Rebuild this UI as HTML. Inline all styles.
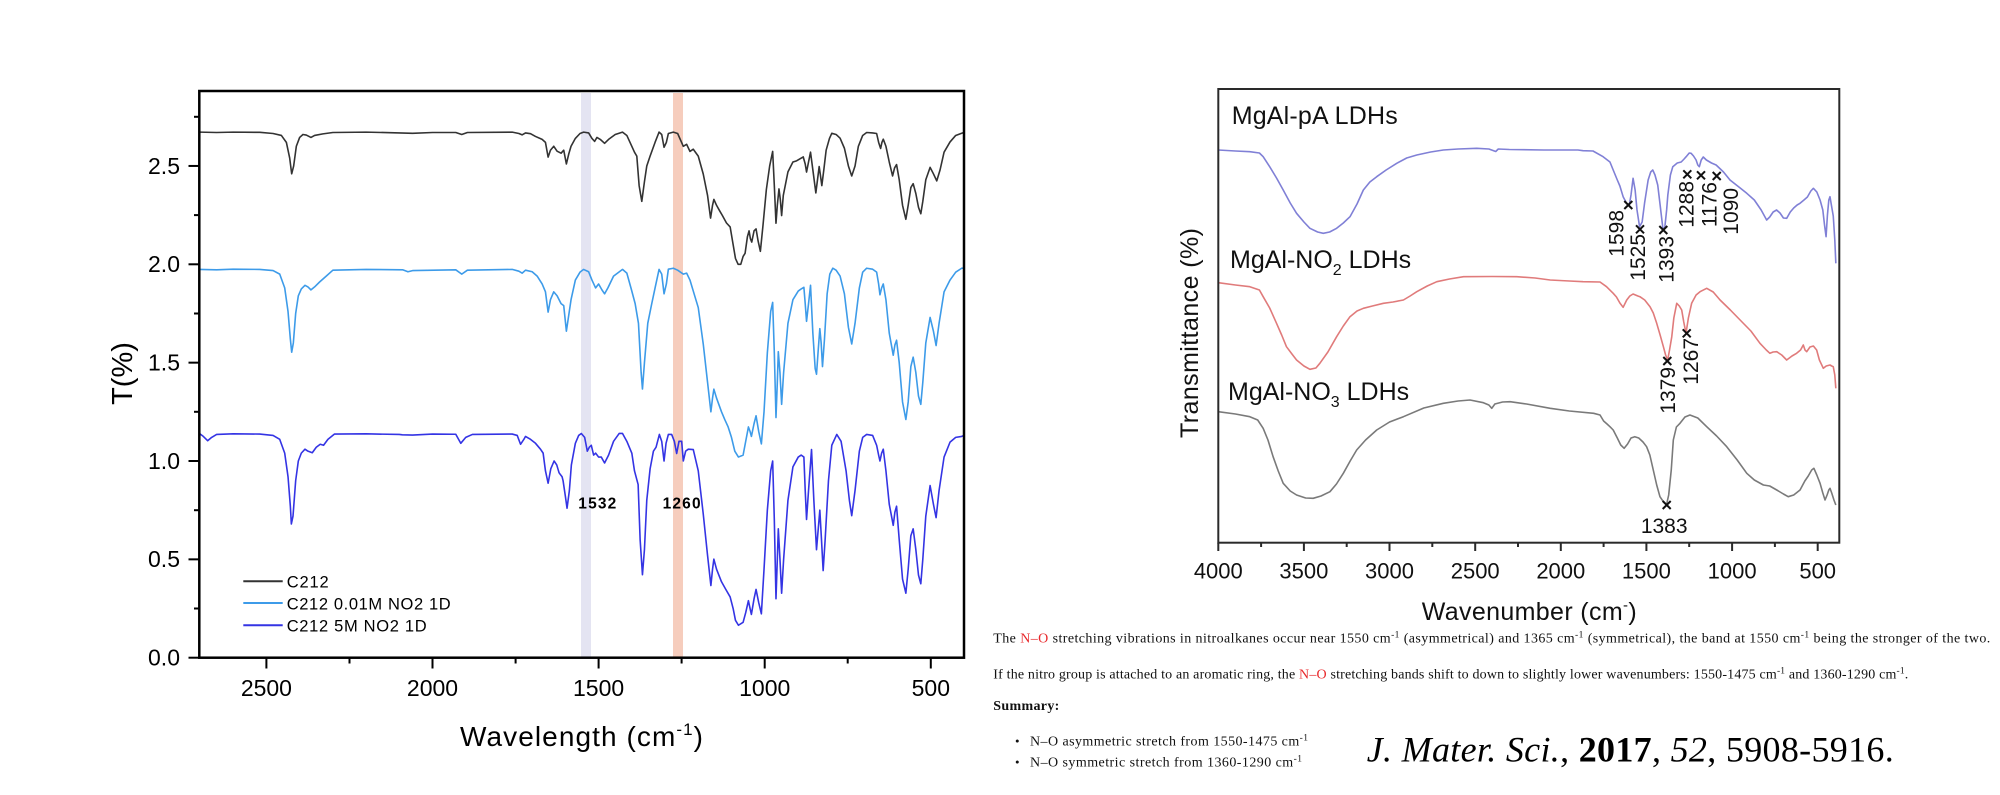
<!DOCTYPE html>
<html><head><meta charset="utf-8"><style>
html,body{margin:0;padding:0;background:#fff;}
svg{display:block;}
</style></head><body>
<svg width="2000" height="795" viewBox="0 0 2000 795" xmlns="http://www.w3.org/2000/svg">
<rect width="2000" height="795" fill="#fff"/>

<!-- ===== LEFT CHART ===== -->
<rect x="581" y="93" width="10" height="564" fill="#e4e4f2"/>
<rect x="673" y="93" width="10" height="564" fill="#f6cdbd"/>

<g transform="matrix(-0.33217,0,0,-196.7,1096.86,657.7)" fill="none" stroke-linejoin="round">
<polyline vector-effect="non-scaling-stroke" stroke="#333333" stroke-width="1.6" points="2700,2.672 2650,2.670 2600,2.672 2520,2.671 2480,2.665 2455,2.655 2440,2.62 2430,2.54 2424,2.46 2418,2.50 2410,2.60 2400,2.645 2390,2.66 2380,2.657 2366,2.645 2355,2.655 2330,2.663 2300,2.670 2200,2.672 2100,2.668 2060,2.666 2000,2.670 1930,2.670 1912,2.660 1895,2.670 1760,2.672 1740,2.665 1730,2.658 1720,2.668 1705,2.664 1690,2.650 1670,2.635 1660,2.62 1652,2.545 1645,2.58 1635,2.60 1625,2.575 1613,2.565 1605,2.58 1597,2.51 1590,2.56 1583,2.60 1570,2.64 1556,2.665 1545,2.672 1530,2.668 1520,2.64 1512,2.625 1505,2.645 1495,2.635 1482,2.615 1470,2.635 1450,2.66 1428,2.672 1415,2.655 1400,2.60 1392,2.57 1385,2.55 1378,2.40 1370,2.32 1362,2.42 1355,2.50 1345,2.55 1330,2.62 1318,2.672 1310,2.66 1303,2.595 1296,2.62 1290,2.665 1275,2.672 1262,2.665 1245,2.60 1235,2.61 1225,2.574 1215,2.585 1200,2.55 1185,2.459 1172,2.35 1163,2.235 1157,2.30 1153,2.33 1145,2.30 1135,2.27 1128,2.25 1115,2.21 1104,2.19 1095,2.10 1088,2.03 1080,2.0 1072,2.0 1065,2.04 1059,2.056 1052,2.14 1047,2.17 1043,2.13 1039,2.113 1032,2.17 1026,2.18 1020,2.12 1013,2.066 1005,2.2 995,2.38 985,2.50 976,2.574 971,2.40 966,2.209 962,2.30 957,2.383 953,2.33 949,2.248 944,2.35 930,2.47 915,2.52 904,2.526 895,2.535 884,2.546 878,2.51 874,2.469 868,2.52 862,2.57 855,2.48 846,2.363 841,2.43 836,2.497 832,2.45 828,2.40 822,2.48 815,2.58 805,2.64 798,2.666 785,2.66 773,2.641 760,2.59 748,2.50 738,2.449 728,2.50 718,2.60 705,2.655 693,2.67 675,2.668 663,2.665 657,2.62 651,2.589 647,2.62 643,2.636 635,2.60 625,2.52 615,2.449 609,2.49 603,2.507 595,2.43 585,2.30 575,2.229 568,2.30 560,2.39 553,2.41 545,2.36 537,2.29 530,2.257 524,2.32 515,2.43 502,2.493 492,2.46 482,2.424 472,2.48 460,2.57 442,2.622 425,2.655 407,2.666 400,2.67"/>
<polyline vector-effect="non-scaling-stroke" stroke="#3d9be9" stroke-width="1.6" points="2700,1.974 2650,1.972 2600,1.975 2520,1.974 2480,1.968 2460,1.95 2445,1.88 2435,1.76 2428,1.62 2424,1.553 2419,1.60 2412,1.75 2404,1.84 2395,1.875 2384,1.893 2375,1.885 2366,1.870 2355,1.885 2340,1.91 2320,1.94 2300,1.970 2200,1.974 2090,1.972 2074,1.962 2060,1.968 1930,1.972 1912,1.950 1895,1.970 1760,1.974 1740,1.965 1730,1.955 1720,1.97 1700,1.962 1685,1.94 1670,1.90 1660,1.86 1652,1.757 1645,1.82 1635,1.86 1625,1.84 1613,1.80 1605,1.79 1597,1.66 1590,1.74 1583,1.82 1570,1.92 1556,1.96 1545,1.974 1530,1.962 1520,1.92 1509,1.88 1500,1.90 1490,1.87 1482,1.85 1472,1.88 1455,1.94 1428,1.974 1415,1.955 1401,1.87 1390,1.80 1380,1.70 1372,1.45 1368,1.366 1362,1.50 1352,1.70 1340,1.80 1330,1.88 1318,1.974 1310,1.95 1303,1.85 1296,1.90 1290,1.975 1275,1.98 1262,1.97 1245,1.95 1235,1.955 1225,1.92 1215,1.864 1200,1.78 1185,1.595 1172,1.40 1162,1.25 1157,1.32 1153,1.365 1145,1.32 1130,1.25 1120,1.21 1110,1.173 1100,1.12 1090,1.05 1079,1.02 1065,1.03 1049,1.173 1044,1.15 1040,1.125 1032,1.19 1026,1.23 1018,1.15 1010,1.087 1002,1.25 992,1.55 982,1.76 976,1.806 971,1.55 966,1.221 962,1.40 959,1.556 954,1.45 949,1.288 943,1.45 930,1.70 915,1.82 899,1.864 890,1.875 882,1.883 878,1.80 874,1.71 868,1.80 862,1.893 855,1.65 848,1.47 844,1.441 839,1.56 834,1.673 830,1.60 826,1.48 820,1.62 812,1.85 804,1.95 795,1.98 785,1.97 773,1.94 760,1.85 748,1.68 738,1.595 728,1.70 715,1.88 705,1.96 693,1.98 675,1.975 663,1.96 657,1.90 653,1.845 648,1.88 643,1.90 635,1.82 625,1.65 613,1.538 608,1.59 603,1.614 595,1.50 585,1.30 575,1.211 568,1.30 560,1.48 553,1.528 545,1.45 537,1.33 530,1.288 524,1.40 515,1.60 502,1.73 492,1.66 484,1.587 475,1.70 460,1.86 442,1.92 425,1.96 407,1.98 400,1.98"/>
<polyline vector-effect="non-scaling-stroke" stroke="#3434e4" stroke-width="1.6" points="2700,1.138 2690,1.125 2677,1.103 2665,1.12 2650,1.135 2600,1.138 2520,1.137 2480,1.13 2460,1.11 2445,1.04 2435,0.92 2428,0.77 2425,0.68 2420,0.72 2412,0.90 2404,1.0 2395,1.04 2384,1.06 2375,1.05 2362,1.042 2350,1.07 2338,1.085 2328,1.08 2315,1.11 2295,1.137 2200,1.138 2100,1.135 2091,1.133 2060,1.132 2000,1.137 1930,1.136 1915,1.09 1900,1.12 1880,1.135 1760,1.137 1745,1.13 1735,1.085 1725,1.11 1720,1.125 1705,1.11 1690,1.09 1675,1.06 1667,1.04 1660,0.95 1652,0.887 1644,0.96 1634,1.0 1626,0.98 1619,0.94 1610,0.92 1607,0.90 1600,0.82 1595,0.76 1588,0.85 1582,0.98 1570,1.09 1560,1.13 1552,1.14 1542,1.12 1534,1.05 1528,1.07 1522,1.08 1515,1.03 1509,1.04 1500,1.02 1492,1.02 1482,0.99 1470,1.03 1455,1.10 1438,1.14 1428,1.14 1415,1.10 1400,1.04 1392,0.95 1381,0.88 1375,0.60 1368,0.422 1362,0.55 1355,0.80 1345,0.96 1335,1.05 1327,1.07 1317,1.135 1310,1.10 1303,1.0 1297,1.09 1290,1.135 1280,1.135 1272,1.10 1265,1.038 1258,1.10 1250,1.10 1245,1.0 1238,1.05 1230,1.06 1215,1.058 1200,0.95 1185,0.731 1172,0.52 1162,0.367 1157,0.45 1153,0.501 1145,0.45 1130,0.386 1118,0.35 1104,0.309 1095,0.25 1088,0.19 1079,0.165 1065,0.18 1057,0.23 1049,0.29 1044,0.25 1040,0.22 1032,0.30 1026,0.347 1018,0.28 1010,0.223 1002,0.45 992,0.75 982,0.95 976,1.0 971,0.70 966,0.30 962,0.50 959,0.655 954,0.50 949,0.328 943,0.50 930,0.80 915,0.97 899,1.02 890,1.03 882,1.02 878,0.85 874,0.703 868,0.85 859,1.058 852,0.80 844,0.549 839,0.65 834,0.75 829,0.60 824,0.443 818,0.60 808,0.90 798,1.08 783,1.135 770,1.10 755,0.95 745,0.80 738,0.722 728,0.85 715,1.05 705,1.12 693,1.135 675,1.13 663,1.08 657,1.03 653,1.0 648,1.04 643,1.06 635,0.95 625,0.78 613,0.673 608,0.74 603,0.77 595,0.60 585,0.40 575,0.328 568,0.45 560,0.62 553,0.655 545,0.55 537,0.42 530,0.376 524,0.50 515,0.72 502,0.875 492,0.78 484,0.712 475,0.85 460,1.02 442,1.096 425,1.12 407,1.125 400,1.13"/>
</g>

<!-- left frame -->
<rect x="199.3" y="91" width="764.7" height="566.7" fill="none" stroke="#000" stroke-width="2.5"/>
<g stroke="#000" stroke-width="2">
<!-- y ticks major -->
<line x1="188.5" y1="657.7" x2="199.3" y2="657.7"/>
<line x1="188.5" y1="559.35" x2="199.3" y2="559.35"/>
<line x1="188.5" y1="461" x2="199.3" y2="461"/>
<line x1="188.5" y1="362.65" x2="199.3" y2="362.65"/>
<line x1="188.5" y1="264.3" x2="199.3" y2="264.3"/>
<line x1="188.5" y1="165.95" x2="199.3" y2="165.95"/>
<!-- y ticks minor -->
<line x1="194" y1="608.5" x2="199.3" y2="608.5"/>
<line x1="194" y1="510.2" x2="199.3" y2="510.2"/>
<line x1="194" y1="411.8" x2="199.3" y2="411.8"/>
<line x1="194" y1="313.5" x2="199.3" y2="313.5"/>
<line x1="194" y1="215.1" x2="199.3" y2="215.1"/>
<line x1="194" y1="116.8" x2="199.3" y2="116.8"/>
<!-- x ticks major -->
<line x1="266.4" y1="657.7" x2="266.4" y2="668.5"/>
<line x1="432.5" y1="657.7" x2="432.5" y2="668.5"/>
<line x1="598.6" y1="657.7" x2="598.6" y2="668.5"/>
<line x1="764.7" y1="657.7" x2="764.7" y2="668.5"/>
<line x1="930.8" y1="657.7" x2="930.8" y2="668.5"/>
<!-- x ticks minor -->
<line x1="349.5" y1="657.7" x2="349.5" y2="663.5"/>
<line x1="515.6" y1="657.7" x2="515.6" y2="663.5"/>
<line x1="681.6" y1="657.7" x2="681.6" y2="663.5"/>
<line x1="847.7" y1="657.7" x2="847.7" y2="663.5"/>
</g>
<g font-family="Liberation Sans, Arial, sans-serif" font-size="23" fill="#000" text-anchor="end">
<text x="180" y="665.5">0.0</text>
<text x="180" y="567.2">0.5</text>
<text x="180" y="468.8">1.0</text>
<text x="180" y="370.5">1.5</text>
<text x="180" y="272.1">2.0</text>
<text x="180" y="173.8">2.5</text>
</g>
<g font-family="Liberation Sans, Arial, sans-serif" font-size="23" fill="#000" text-anchor="middle">
<text x="266.4" y="696">2500</text>
<text x="432.5" y="696">2000</text>
<text x="598.6" y="696">1500</text>
<text x="764.7" y="696">1000</text>
<text x="930.8" y="696">500</text>
</g>
<text x="0" y="0" transform="translate(132,373.5) rotate(-90)" font-family="Liberation Sans, Arial, sans-serif" font-size="29" text-anchor="middle" fill="#000">T(%)</text>
<text x="460" y="746" font-family="Liberation Sans, Arial, sans-serif" font-size="28" fill="#000" textLength="243">Wavelength (cm<tspan font-size="17" dy="-11">-1</tspan><tspan dy="11">)</tspan></text>

<!-- band labels -->
<text x="578.3" y="508.3" font-family="Liberation Sans, Arial, sans-serif" font-weight="bold" font-size="15.5" fill="#000" textLength="38">1532</text>
<text x="662.6" y="508.5" font-family="Liberation Sans, Arial, sans-serif" font-weight="bold" font-size="15.5" fill="#000" textLength="38">1260</text>

<!-- legend -->
<line x1="243.3" y1="581.3" x2="282.7" y2="581.3" stroke="#333333" stroke-width="2"/>
<line x1="243.3" y1="603" x2="282.7" y2="603" stroke="#3d9be9" stroke-width="2"/>
<line x1="243.3" y1="625.3" x2="282.7" y2="625.3" stroke="#3434e4" stroke-width="2"/>
<g font-family="Liberation Sans, Arial, sans-serif" font-size="16.5" fill="#000">
<text x="286.7" y="587.7" textLength="42">C212</text>
<text x="286.7" y="609.5" textLength="164">C212 0.01M NO2 1D</text>
<text x="286.7" y="631.7" textLength="140">C212 5M NO2 1D</text>
</g>

<!-- ===== RIGHT CHART ===== -->
<g transform="matrix(-0.17125,0,0,1,1903.3,0)" fill="none" stroke-linejoin="round">
<polyline vector-effect="non-scaling-stroke" stroke="#8080d6" stroke-width="1.6" points="4000,150 3900,151 3816,151.7 3760,153 3738,156.7 3700,166.7 3660,178 3621,190 3580,203 3543,213.3 3500,222 3465,228.3 3420,232 3387,233.3 3350,232 3309,228.3 3270,223 3231,216.7 3190,204 3153,190 3115,182 3075,176.7 3020,170 2958,163.3 2900,158 2841,155 2760,152 2686,150 2600,149 2491,148.3 2420,149 2380,151.5 2365,149 2300,149.5 2100,150 1900,150 1870,150.7 1812,151 1753,156.7 1713,162 1694,170 1670,180 1655,186 1636,196.7 1616,203.3 1600,205 1590,195 1578,178.3 1566,190 1555,210 1540,226.7 1525,222 1511,203.3 1490,180 1475,172 1463,170 1450,175 1434,185 1420,205 1404,228.3 1393,228 1382,210 1375,195 1360,175 1346,166.7 1320,163 1297,162 1280,159 1268,156.7 1250,153 1239,153.3 1225,156 1210,160 1200,165 1191,166.7 1180,160 1168,157 1150,160 1120,163 1093,165 1050,172 1012,180 960,187 914,193.3 870,200 830,210 798,220 780,217 760,212 740,210 720,213 700,218 681,218.3 660,212 640,208 620,205 603,203.3 580,200 560,197 540,191 525,188.3 505,192 486,200 470,210 460,225 451,236.7 443,215 435,200 428,196.7 420,205 409,216 400,240 394,263.3"/>
<polyline vector-effect="non-scaling-stroke" stroke="#e07b7b" stroke-width="1.6" points="4000,282.7 3900,285 3816,286.7 3760,290 3738,296.7 3700,308 3660,323.3 3630,335 3602,346.7 3570,354 3543,360 3500,366 3465,369.3 3430,368 3407,363.3 3360,352 3309,336.7 3270,326 3231,316.7 3190,311 3153,308.3 3100,306 3036,303.3 2980,302 2919,300 2880,296 2841,291.7 2780,286 2724,281.7 2650,279 2568,276.7 2400,276.5 2257,276.7 2150,278 2062,280 1950,281 1870,281.7 1771,282 1733,286.7 1694,293.3 1675,297 1655,303 1636,307.3 1615,300 1597,296 1578,294 1550,296 1538,296.7 1510,300 1479,306.7 1460,313 1440,323.3 1420,335 1401,346.7 1388,355 1376,360 1365,350 1352,336.7 1340,318 1323,303.3 1308,306 1294,310 1282,322 1269,333.3 1255,318 1236,303.3 1210,295 1187,291.7 1148,288.3 1110,292 1070,300 1010,310 953,320 890,331 837,343.3 800,350 779,353.3 760,352 739,351.7 710,355 681,360 650,356 623,353.3 600,350 584,345 574,350 564,351.7 545,347 525,346 506,350 490,360 467,368.3 450,366 428,365 418,366 409,366.7 400,375 394,388.3"/>
<polyline vector-effect="non-scaling-stroke" stroke="#7a7a7a" stroke-width="1.6" points="4000,411.7 3900,414 3816,416.7 3770,420 3738,428.3 3710,440 3680,456.7 3650,471 3621,483.3 3580,491 3543,495 3490,498 3446,498.3 3400,496 3348,491.7 3310,484 3270,473.3 3230,461 3192,450 3140,440 3075,430 3000,422 2919,416.7 2800,408 2686,403.3 2600,401 2530,400 2452,402.7 2420,405 2403,408.3 2385,404 2340,402 2296,401.7 2200,404 2062,408.3 1950,411 1808,413.3 1771,415 1750,421 1730,424 1713,426.7 1694,430 1670,438 1650,445 1630,448.3 1610,444 1590,438 1568,436.7 1545,438 1520,442 1499,446.7 1480,455 1460,470 1440,485 1421,496.7 1400,502 1383,505 1370,495 1355,470 1343,440 1325,427 1304,423.3 1275,417 1246,415 1200,418 1148,426.7 1090,436 1031,446.7 970,460 914,473.3 870,480 817,485 780,486 739,490 700,494 672,496.7 640,495 603,490 575,481 555,476 535,470 522,468.3 505,475 486,483.3 470,493 457,500 445,495 435,490 428,488.3 418,493 405,500 394,505"/>
</g>

<rect x="1218.3" y="89" width="621" height="453.7" fill="none" stroke="#2a2a2a" stroke-width="2"/>
<g stroke="#2a2a2a" stroke-width="2">
<line x1="1218.3" y1="542.7" x2="1218.3" y2="551"/>
<line x1="1303.9" y1="542.7" x2="1303.9" y2="551"/>
<line x1="1389.5" y1="542.7" x2="1389.5" y2="551"/>
<line x1="1475.2" y1="542.7" x2="1475.2" y2="551"/>
<line x1="1560.8" y1="542.7" x2="1560.8" y2="551"/>
<line x1="1646.4" y1="542.7" x2="1646.4" y2="551"/>
<line x1="1732.1" y1="542.7" x2="1732.1" y2="551"/>
<line x1="1817.7" y1="542.7" x2="1817.7" y2="551"/>
<line x1="1261.1" y1="542.7" x2="1261.1" y2="547"/>
<line x1="1346.7" y1="542.7" x2="1346.7" y2="547"/>
<line x1="1432.3" y1="542.7" x2="1432.3" y2="547"/>
<line x1="1518" y1="542.7" x2="1518" y2="547"/>
<line x1="1603.6" y1="542.7" x2="1603.6" y2="547"/>
<line x1="1689.2" y1="542.7" x2="1689.2" y2="547"/>
<line x1="1774.9" y1="542.7" x2="1774.9" y2="547"/>
</g>
<g font-family="Liberation Sans, Arial, sans-serif" font-size="22" fill="#111" text-anchor="middle">
<text x="1218.3" y="578.5">4000</text>
<text x="1303.9" y="578.5">3500</text>
<text x="1389.5" y="578.5">3000</text>
<text x="1475.2" y="578.5">2500</text>
<text x="1560.8" y="578.5">2000</text>
<text x="1646.4" y="578.5">1500</text>
<text x="1732.1" y="578.5">1000</text>
<text x="1817.7" y="578.5">500</text>
</g>
<text x="1421.7" y="620" font-family="Liberation Sans, Arial, sans-serif" font-size="25" fill="#111" textLength="215">Wavenumber (cm<tspan font-size="15" dy="-10">-</tspan><tspan dy="10">)</tspan></text>
<text x="0" y="0" transform="translate(1198,333) rotate(-90)" font-family="Liberation Sans, Arial, sans-serif" font-size="25" fill="#111" text-anchor="middle" textLength="210">Transmittance (%)</text>

<g font-family="Liberation Sans, Arial, sans-serif" font-size="25" fill="#111">
<text x="1231.7" y="124" textLength="166">MgAl-pA LDHs</text>
<text x="1230" y="268">MgAl-NO<tspan font-size="16" dy="7">2</tspan><tspan dy="-7"> LDHs</tspan></text>
<text x="1228" y="400">MgAl-NO<tspan font-size="16" dy="7">3</tspan><tspan dy="-7"> LDHs</tspan></text>
</g>

<!-- markers -->
<g stroke="#111" stroke-width="2">
<path d="M1624.3,201 L1632.3,209 M1632.3,201 L1624.3,209"/>
<path d="M1636,225.3 L1644,233.3 M1644,225.3 L1636,233.3"/>
<path d="M1659.3,226 L1667.3,234 M1667.3,226 L1659.3,234"/>
<path d="M1683.3,170.3 L1691.3,178.3 M1691.3,170.3 L1683.3,178.3"/>
<path d="M1697,171.3 L1705,179.3 M1705,171.3 L1697,179.3"/>
<path d="M1712.7,172 L1720.7,180 M1720.7,172 L1712.7,180"/>
<path d="M1663.3,357 L1671.3,365 M1671.3,357 L1663.3,365"/>
<path d="M1682.7,329.3 L1690.7,337.3 M1690.7,329.3 L1682.7,337.3"/>
<path d="M1662.7,501 L1670.7,509 M1670.7,501 L1662.7,509"/>
</g>
<g font-family="Liberation Sans, Arial, sans-serif" font-size="21" fill="#111" text-anchor="end">
<text transform="translate(1623.3,210) rotate(-90)">1598</text>
<text transform="translate(1645,234) rotate(-90)">1525</text>
<text transform="translate(1673.3,236) rotate(-90)">1393</text>
<text transform="translate(1693.3,181) rotate(-90)">1288</text>
<text transform="translate(1716.7,182) rotate(-90)">1176</text>
<text transform="translate(1738,188) rotate(-90)">1090</text>
<text transform="translate(1675,367) rotate(-90)">1379</text>
<text transform="translate(1698,338) rotate(-90)">1267</text>
</g>
<text x="1664.2" y="533" font-family="Liberation Sans, Arial, sans-serif" font-size="21" fill="#111" text-anchor="middle">1383</text>

<!-- ===== TEXT BLOCK ===== -->
<g font-family="Liberation Serif, Times New Roman, serif" font-size="14" fill="#111">
<text x="993.3" y="642.7" textLength="997">The <tspan fill="#e8282b">N–O</tspan> stretching vibrations in nitroalkanes occur near 1550 cm<tspan font-size="9.5" dy="-5">-1</tspan><tspan dy="5"> (asymmetrical) and 1365 cm</tspan><tspan font-size="9.5" dy="-5">-1</tspan><tspan dy="5"> (symmetrical), the band at 1550 cm</tspan><tspan font-size="9.5" dy="-5">-1</tspan><tspan dy="5"> being the stronger of the two.</tspan></text>
<text x="993.3" y="678.3" textLength="915">If the nitro group is attached to an aromatic ring, the <tspan fill="#e8282b">N–O</tspan> stretching bands shift to down to slightly lower wavenumbers: 1550-1475 cm<tspan font-size="9.5" dy="-5">-1</tspan><tspan dy="5"> and 1360-1290 cm</tspan><tspan font-size="9.5" dy="-5">-1</tspan><tspan dy="5">.</tspan></text>
<text x="993.3" y="710" font-weight="bold" textLength="66">Summary:</text>
<text x="1015" y="745.5" font-size="13">•</text>
<text x="1030" y="745.5" textLength="278">N–O asymmetric stretch from 1550-1475 cm<tspan font-size="9.5" dy="-5">-1</tspan></text>
<text x="1015" y="766.5" font-size="13">•</text>
<text x="1030" y="766.5" textLength="272">N–O symmetric stretch from 1360-1290 cm<tspan font-size="9.5" dy="-5">-1</tspan></text>
</g>
<text x="1366.7" y="761.7" font-family="Liberation Serif, Times New Roman, serif" font-size="36" fill="#000" textLength="527"><tspan font-style="italic">J. Mater. Sci.</tspan>, <tspan font-weight="bold">2017</tspan>, <tspan font-style="italic">52</tspan>, 5908-5916.</text>
</svg>
</body></html>
